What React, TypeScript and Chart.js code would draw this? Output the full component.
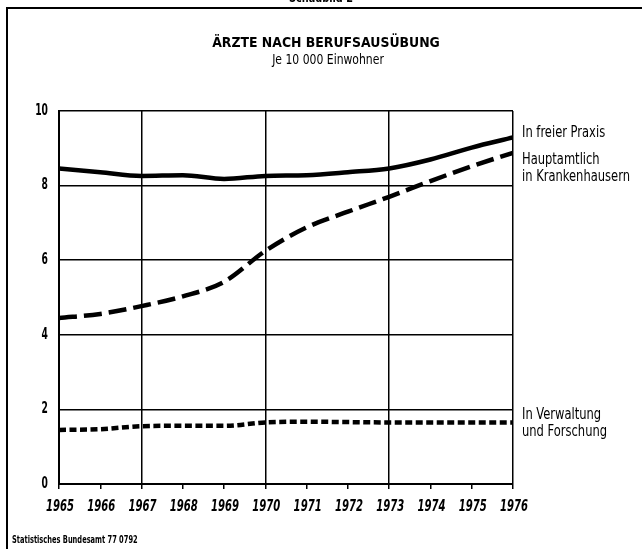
import React, { useEffect, useRef } from "react";
import { Chart, registerables } from "chart.js";

Chart.register(...registerables);

const years = [1965, 1966, 1967, 1968, 1969, 1970, 1971, 1972, 1973, 1974, 1975, 1976];
const freiePraxis = [8.46, 8.36, 8.26, 8.28, 8.18, 8.26, 8.28, 8.36, 8.46, 8.7, 9.02, 9.29];
const krankenhaus = [4.45, 4.56, 4.77, 5.03, 5.42, 6.25, 6.88, 7.3, 7.7, 8.12, 8.52, 8.88];
const verwaltung = [1.45, 1.47, 1.55, 1.56, 1.56, 1.65, 1.67, 1.66, 1.65, 1.65, 1.65, 1.65];
const majorYears = [1965, 1967, 1970, 1973, 1976];
const yTicks = [0, 2, 4, 6, 8, 10];

const headerText = "Schaubild 2";
const titleText = "ÄRZTE NACH BERUFSAUSÜBUNG";
const subtitleText = "Je 10 000 Einwohner";
const sourceText = "Statistisches Bundesamt 77 0792";
const labelFrei = ["In freier Praxis"];
const labelKrank = ["Hauptamtlich", "in Krankenhausern"];
const labelVerw = ["In Verwaltung", "und Forschung"];

const FONT = '"DejaVu Sans Condensed", "DejaVu Sans", sans-serif';

function txt(ctx: any, s: string, x: number, y: number, font: string, align: string, sx: number) {
  ctx.save();
  ctx.font = font;
  ctx.textBaseline = "middle";
  ctx.textAlign = align;
  ctx.translate(x, y);
  ctx.scale(sx, 1);
  ctx.fillText(s, 0, 0);
  ctx.restore();
}

export default function App() {
  const ref = useRef<HTMLCanvasElement | null>(null);

  useEffect(() => {
    document.body.style.margin = "0";
    const canvas = ref.current;
    if (!canvas) return;

    const decor = {
      id: "decor",
      beforeDraw(chart: any) {
        const ctx = chart.ctx;
        ctx.save();
        ctx.fillStyle = "#ffffff";
        ctx.fillRect(0, 0, chart.width, chart.height);
        ctx.restore();
      },
      afterDraw(chart: any) {
        const ctx = chart.ctx;
        const xs = chart.scales.x;
        const ys = chart.scales.y;
        ctx.save();
        ctx.strokeStyle = "#000";
        ctx.fillStyle = "#000";
        // frame
        ctx.lineWidth = 2;
        ctx.beginPath();
        ctx.moveTo(7, 549);
        ctx.lineTo(7, 8);
        ctx.lineTo(642, 8);
        ctx.stroke();
        // cut-off header text
        txt(ctx, headerText, 321, -1, `bold 12px ${FONT}`, "center", 0.9);
        // title
        txt(ctx, titleText, 326, 43, `bold 14px ${FONT}`, "center", 0.99);
        txt(ctx, subtitleText, 328, 60, `14px ${FONT}`, "center", 0.86);
        // y tick labels
        yTicks.forEach((v) => {
          txt(ctx, String(v), xs.left - 11, ys.getPixelForValue(v), `bold 15px ${FONT}`, "right", 0.68);
        });
        // x tick labels
        years.forEach((v) => {
          txt(ctx, String(v), xs.getPixelForValue(v) + 1, 507, `italic bold 16px ${FONT}`, "center", 0.7);
        });
        // right labels
        const lx = xs.right + 9;
        const rf = `16px ${FONT}`;
        txt(ctx, labelFrei[0], lx, 133, rf, "left", 0.8);
        labelKrank.forEach((t, i) => txt(ctx, t, lx, 160 + i * 17, rf, "left", 0.8));
        labelVerw.forEach((t, i) => txt(ctx, t, lx, 415 + i * 17, rf, "left", 0.8));
        // source
        txt(ctx, sourceText, 12, 540, `bold 10px ${FONT}`, "left", 0.74);
        // bottom axis line thicker
        ctx.lineWidth = 2;
        ctx.beginPath();
        ctx.moveTo(xs.left, ys.getPixelForValue(0));
        ctx.lineTo(xs.right, ys.getPixelForValue(0));
        ctx.stroke();
        ctx.restore();
      },
    };

    const lineBase = {
      borderColor: "#000",
      borderWidth: 4.5,
      pointRadius: 0,
      tension: 0.35,
      cubicInterpolationMode: "monotone",
    };

    const chart = new Chart(canvas, {
      type: "line",
      data: {
        datasets: [
          { ...lineBase, label: labelFrei.join(" "), data: years.map((x, i) => ({ x, y: freiePraxis[i] })) },
          { ...lineBase, label: labelKrank.join(" "), borderDash: [18, 7], data: years.map((x, i) => ({ x, y: krankenhaus[i] })) },
          { ...lineBase, label: labelVerw.join(" "), borderDash: [7, 3.5], data: years.map((x, i) => ({ x, y: verwaltung[i] })) },
        ],
      },
      options: {
        animation: false,
        responsive: false,
        maintainAspectRatio: false,
        layout: { padding: { top: 111, right: 129, left: 0, bottom: 0 } },
        plugins: { legend: { display: false }, tooltip: { enabled: false }, title: { display: false } },
        scales: {
          x: {
            type: "linear",
            min: 1965,
            max: 1976,
            afterFit: (s: any) => { s.height = 65; },
            afterBuildTicks: (s: any) => { s.ticks = years.map((v) => ({ value: v })); },
            border: { display: true, color: "#000", width: 2 },
            grid: {
              color: (c: any) => (majorYears.includes(c.tick?.value) ? "#000" : "rgba(0,0,0,0)"),
              lineWidth: 1.5,
              tickColor: "#000",
              tickLength: 5,
              drawTicks: true,
            },
            ticks: { display: false },
          },
          y: {
            min: 0,
            max: 10,
            afterFit: (s: any) => { s.width = 59; },
            afterBuildTicks: (s: any) => { s.ticks = yTicks.map((v) => ({ value: v })); },
            border: { display: true, color: "#000", width: 2 },
            grid: { color: "#000", lineWidth: 1.5, drawTicks: false },
            ticks: { display: false },
          },
        },
      },
      plugins: [decor],
    } as any);

    return () => chart.destroy();
  }, []);

  return (
    <div style={{ width: 642, height: 549 }}>
      <canvas ref={ref} width={642} height={549} style={{ display: "block", width: 642, height: 549 }} />
    </div>
  );
}
